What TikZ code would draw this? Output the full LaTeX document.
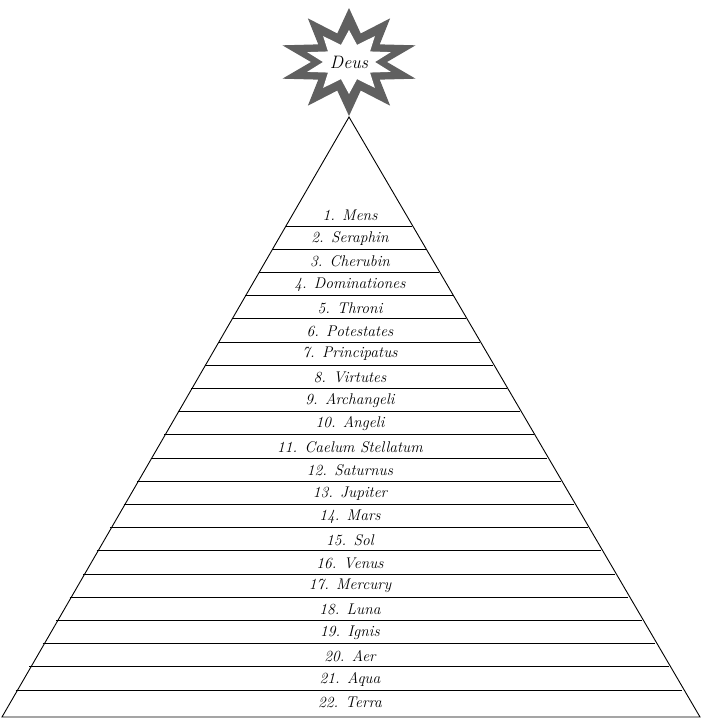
\documentclass[tikz,border=0pt]{standalone}
\usetikzlibrary{calc}
\begin{document}
\begin{tikzpicture}[x=1pt, y=-1pt,
    band/.style={font=\itshape\fontsize{15.5}{17}\selectfont, inner sep=0pt},
    edge/.style={draw=black, line width=0.9pt}
]
    \useasboundingbox (0,0) rectangle (703,720);
    % star on top
    \fill[gray!75!black] plot[samples=21, domain=0:20, variable=\k]
        ({349+(mod(\k,2)==0 ? 70 : 38)*sin(18*\k)}, {62-(mod(\k,2)==0 ? 54 : 30)*cos(18*\k)}) -- cycle;
    \fill[white] plot[samples=21, domain=0:20, variable=\k]
        ({349+(mod(\k,2)==0 ? 44 : 26)*sin(18*\k)}, {62-(mod(\k,2)==0 ? 32 : 18)*cos(18*\k)}) -- cycle;
    \node[band, font=\itshape\fontsize{18}{20}\selectfont] (deus) at (349,62) {Deus};
    % pyramid
    \coordinate (apex) at (349,117);
    \coordinate (left) at (2,717);
    \coordinate (right) at (700,717);
    \draw[edge] (left) -- (apex) -- (right) -- cycle;
    \foreach \i in {1,...,21} {
        \pgfmathsetmacro{\yy}{226+(\i-1)*23.2}
        \pgfmathsetmacro{\hw}{(\yy-117)/600*349}
        \draw[edge] ({349-\hw},\yy) -- ({349+\hw},\yy);
    }
    \foreach \txt [count=\i] in {1. Mens, 2. Seraphin, 3. Cherubin, 4. Dominationes,
        5. Throni, 6. Potestates, 7. Principatus, 8. Virtutes, 9. Archangeli,
        10. Angeli, 11. Caelum Stellatum, 12. Saturnus, 13. Jupiter, 14. Mars,
        15. Sol, 16. Venus, 17. Mercury, 18. Luna, 19. Ignis, 20. Aer,
        21. Aqua, 22. Terra} {
        \node[band] (b\i) at (350,{215+(\i-1)*23.2}) {\txt};
    }
\end{tikzpicture}
\end{document}
